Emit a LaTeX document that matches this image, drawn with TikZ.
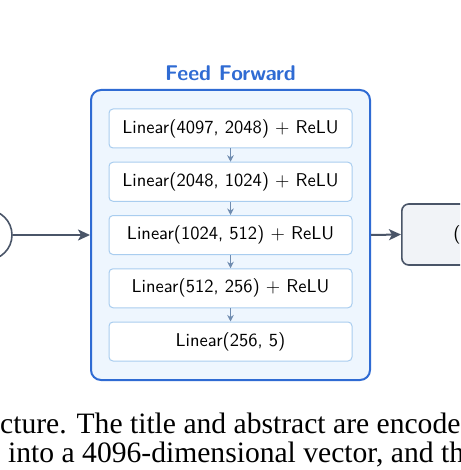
\documentclass[tikz,border=0pt]{standalone}
\usepackage{fontspec}
\newfontfamily\capfont{Liberation Serif}
\newfontfamily\lmsten{lmsans10-regular.otf}[BoldFont=lmsans10-bold.otf]
\usetikzlibrary{arrows.meta,positioning}
\definecolor{ffblue}{HTML}{2F6BD3}
\definecolor{fffill}{HTML}{EEF6FE}
\definecolor{layerborder}{HTML}{A9CDEF}
\definecolor{smallarrow}{HTML}{6F8CB0}
\definecolor{slate}{HTML}{4A5568}
\definecolor{outfill}{HTML}{F1F3F7}
\tikzset{
  ffbox/.style={draw=ffblue, fill=fffill, line width=2pt, rounded corners=10pt,
    minimum width=279pt, minimum height=290pt, inner sep=0pt},
  layerbox/.style={draw=layerborder, fill=white, line width=1pt, rounded corners=4pt,
    minimum width=243pt, minimum height=39pt, inner sep=0pt,
    font=\lmsten\fontsize{18.5}{22}\selectfont},
  smallarr/.style={draw=smallarrow, line width=1pt, -{Stealth[length=6.5pt,width=6.5pt]}},
  bigarr/.style={draw=slate, line width=2pt, -{Stealth[length=12pt,width=11pt,inset=3pt]}},
  inpcircle/.style={circle, draw=slate, line width=1.6pt, minimum size=50pt, inner sep=0pt},
  outbox/.style={draw=slate, fill=outfill, line width=1.6pt, rounded corners=7pt,
    minimum width=130pt, minimum height=61pt, inner sep=0pt},
  titletext/.style={text=ffblue, font=\lmsten\bfseries\fontsize{21.3}{25}\selectfont, inner sep=0pt},
  captext/.style={font=\capfont\fontsize{29.6}{29}\selectfont, inner sep=0pt, anchor=base west},
}
\begin{document}
\begin{tikzpicture}[x=1pt,y=-1pt]
\useasboundingbox (0,0) rectangle (460,470);
\clip (0,0) rectangle (460,470);
\node[inpcircle] (inp) at (-13,235) {};
\node[ffbox] (ff) at (230.5,235) {};
\node[titletext, anchor=base] (title) at (230.5,81) {Feed Forward};
\node[layerbox] (l1) at (230.5,128.5) {Linear(4097, 2048) + ReLU};
\node[layerbox] (l2) at (230.5,181.75) {Linear(2048, 1024) + ReLU};
\node[layerbox] (l3) at (230.5,235) {Linear(1024, 512) + ReLU};
\node[layerbox] (l4) at (230.5,288.25) {Linear(512, 256) + ReLU};
\node[layerbox] (l5) at (230.5,341.5) {Linear(256, 5)};
\draw[smallarr] (l1) -- (l2);
\draw[smallarr] (l2) -- (l3);
\draw[smallarr] (l3) -- (l4);
\draw[smallarr] (l4) -- (l5);
\node[outbox, anchor=west] (out) at (401,234.5) {};
\node[font=\lmsten\fontsize{18.5}{22}\selectfont, inner sep=0pt] (paren) at (457,234.5) {(};
\draw[bigarr] (inp.east) -- (ff.west);
\draw[bigarr] (ff.east) -- (out.west);
\node[captext] (cap1) at (0,433) {cture. The title and abstract are encode};
\node[captext] (cap2) at (8,462) {into a 4096-dimensional vector, and th};
\end{tikzpicture}
\end{document}
